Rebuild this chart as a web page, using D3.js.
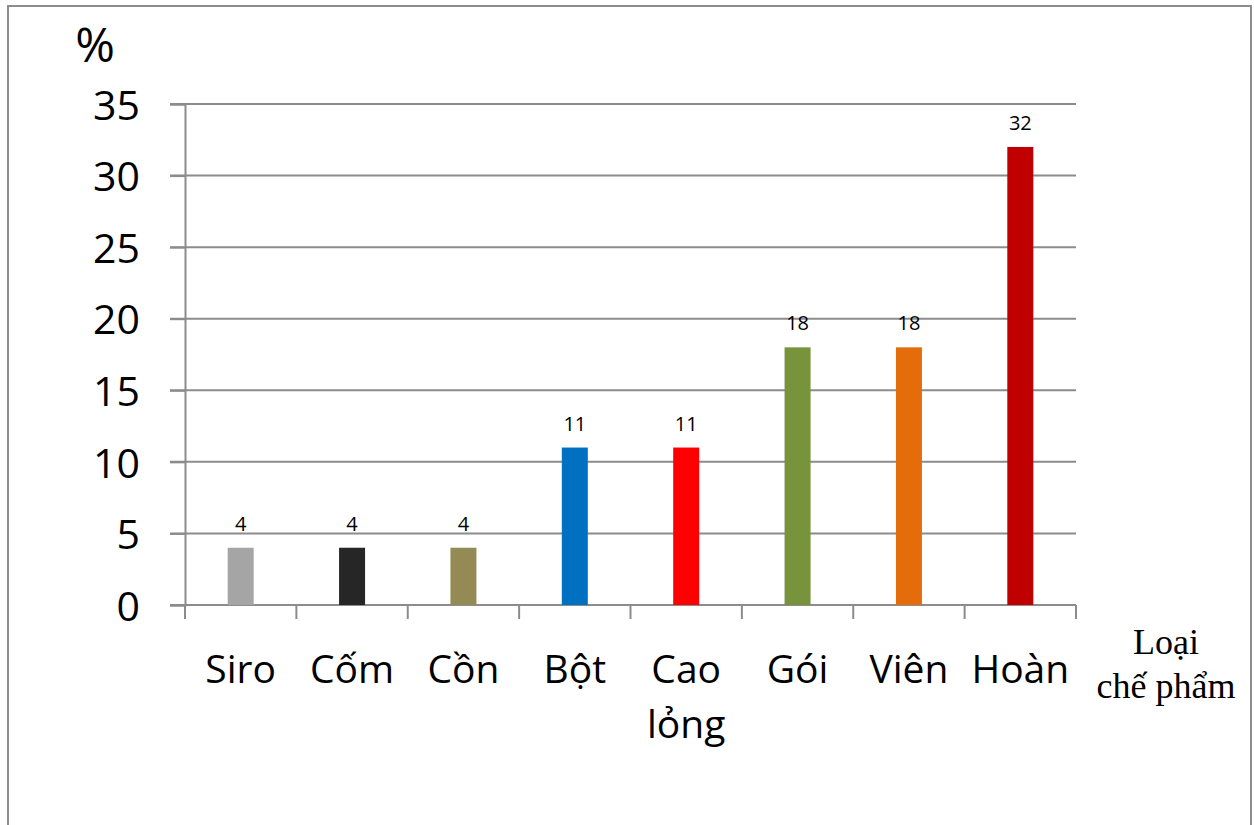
<!DOCTYPE html>
<html>
<head>
<meta charset="utf-8">
<script src="https://cdn.jsdelivr.net/npm/d3@7"></script>
<style>
  html, body { margin: 0; padding: 0; background: #fff; }
  svg { display: block; }
</style>
</head>
<body>
<svg id="chart" width="1254" height="825"></svg>
<script>
// Dosage forms (two-line labels split on "\n") and their shares in percent
const categories = ["Siro", "Cốm", "Cồn", "Bột", "Cao\nlỏng", "Gói", "Viên", "Hoàn"];
const values = [4, 4, 4, 11, 11, 18, 18, 32];
const barColors = ["#a5a5a5", "#262626", "#948a54", "#0070c0", "#ff0000", "#77933c", "#e46c0a", "#c00000"];
const yTicks = [0, 5, 10, 15, 20, 25, 30, 35];
const yUnit = "%";
const xTitle = ["Loại", "chế phẩm"];

const svg = d3.select("#chart");
const W = 1254, H = 825;
const m = { left: 185, right: 178, top: 104, bottom: 220 };
const sansFont = "'Open Sans', sans-serif";
const gridColor = "#8c8c8c";

// outer frame (left, top, right edges)
svg.append("path")
  .attr("d", `M8,${H} L8,6 L1251,6 L1251,${H}`)
  .attr("fill", "none").attr("stroke", "#8c8c8c").attr("stroke-width", 2);

const x = d3.scaleBand().domain(categories).range([m.left, W - m.right]).paddingInner(0).paddingOuter(0);
const y = d3.scaleLinear().domain([0, 35]).range([H - m.bottom, m.top]);

// horizontal gridlines
svg.append("g").selectAll("line").data(yTicks).join("line")
  .attr("x1", m.left - 15).attr("x2", W - m.right)
  .attr("y1", d => y(d)).attr("y2", d => y(d))
  .attr("stroke", gridColor).attr("stroke-width", 2);

// y axis
const yAxis = svg.append("g")
  .attr("transform", `translate(${m.left},0)`)
  .call(d3.axisLeft(y).tickValues(yTicks).tickSize(15).tickPadding(30));
yAxis.select(".domain").attr("stroke", gridColor).attr("stroke-width", 2);
yAxis.selectAll(".tick line").attr("stroke", gridColor).attr("stroke-width", 2);
yAxis.selectAll(".tick text")
  .attr("font-family", sansFont).attr("font-size", 41).attr("fill", "#000")
  .attr("dy", "0.37em");

// x axis with ticks between categories
const xAxisY = y(0);
const xAxis = svg.append("g").attr("transform", `translate(0,${xAxisY})`);
xAxis.append("line")
  .attr("x1", m.left).attr("x2", W - m.right).attr("y1", 0).attr("y2", 0)
  .attr("stroke", gridColor).attr("stroke-width", 2);
const boundaries = categories.map(c => x(c)).concat([x(categories[categories.length - 1]) + x.bandwidth()]);
xAxis.selectAll("line.tk").data(boundaries).join("line").attr("class", "tk")
  .attr("x1", d => d).attr("x2", d => d).attr("y1", 0).attr("y2", 14)
  .attr("stroke", gridColor).attr("stroke-width", 2);

// category labels
const catText = svg.append("g").selectAll("text").data(categories).join("text")
  .attr("x", d => x(d) + x.bandwidth() / 2)
  .attr("y", 683)
  .attr("text-anchor", "middle")
  .attr("font-family", sansFont).attr("font-size", 39).attr("fill", "#000");
catText.each(function(d) {
  const t = d3.select(this);
  d.split("\n").forEach((line, i) => {
    t.append("tspan").attr("x", x(d) + x.bandwidth() / 2).attr("dy", i === 0 ? 0 : 55).text(line);
  });
});

// bars
const barW = 26;
svg.append("g").selectAll("rect").data(values).join("rect")
  .attr("x", (d, i) => x(categories[i]) + x.bandwidth() / 2 - barW / 2)
  .attr("width", barW)
  .attr("y", d => y(d))
  .attr("height", d => y(0) - y(d))
  .attr("fill", (d, i) => barColors[i]);

// value labels above bars
svg.append("g").selectAll("text").data(values).join("text")
  .attr("x", (d, i) => x(categories[i]) + x.bandwidth() / 2)
  .attr("y", d => y(d) - 17)
  .attr("text-anchor", "middle")
  .attr("font-family", sansFont).attr("font-size", 20).attr("fill", "#000")
  .text(d => d);

// unit label
svg.append("text")
  .attr("x", 95).attr("y", 62)
  .attr("text-anchor", "middle")
  .attr("font-family", sansFont).attr("font-size", 48).attr("fill", "#000")
  .text(yUnit);

// x axis title
svg.append("text")
  .attr("x", 1166).attr("y", 654)
  .attr("text-anchor", "middle")
  .attr("font-family", "'Liberation Serif', 'Times New Roman', serif").attr("font-size", 36).attr("fill", "#000")
  .selectAll("tspan").data(xTitle).join("tspan")
  .attr("x", 1166).attr("dy", (d, i) => i === 0 ? 0 : 44).text(d => d);
</script>
</body>
</html>
